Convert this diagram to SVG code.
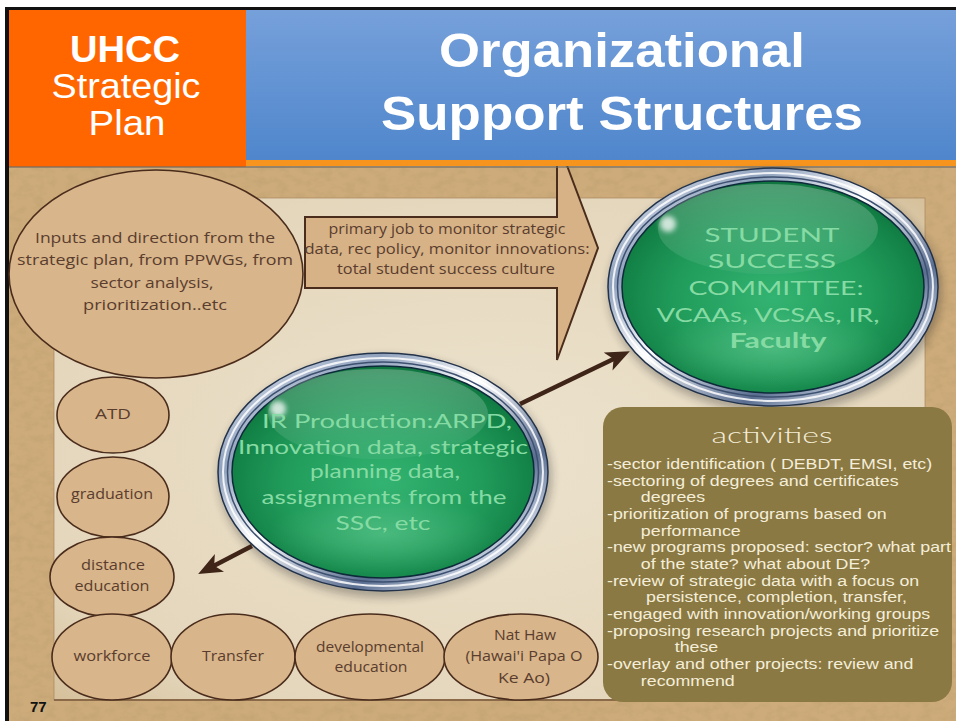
<svg xmlns="http://www.w3.org/2000/svg" xmlns:xlink="http://www.w3.org/1999/xlink" width="956" height="721" viewBox="0 0 956 721">
<defs>
<style>
.hdr{font-family:"Liberation Sans",Arial,sans-serif;fill:#ffffff}
.brown{font-family:"Open Sans","DejaVu Sans",sans-serif;font-size:15px;fill:#5a3d2e;text-anchor:middle}
.small{font-size:14px}
.node{fill:#d8b58a;stroke:#4a2c1c;stroke-width:1.6}
.gtxt{font-family:Lato,"Open Sans",sans-serif;font-size:20px;fill:#86dba4;text-anchor:middle}
.act{font-family:"Liberation Sans",Arial,sans-serif;font-size:15.5px;fill:#f4eed8}
.conn{stroke:#3f2418;stroke-width:4.5;fill:none;marker-end:url(#ah)}
</style>
<linearGradient id="blue" x1="0" y1="0" x2="0" y2="1">
<stop offset="0" stop-color="#76a0da"/><stop offset="1" stop-color="#4f86cc"/>
</linearGradient>
<radialGradient id="paper" cx="0.5" cy="0.5" r="0.7">
<stop offset="0" stop-color="#ece2cd"/><stop offset="0.8" stop-color="#e4d6bb"/><stop offset="1" stop-color="#d6c19c"/>
</radialGradient>
<linearGradient id="silver" x1="0" y1="0" x2="1" y2="1">
<stop offset="0" stop-color="#eef2f8"/><stop offset="0.25" stop-color="#8fa1bd"/><stop offset="0.45" stop-color="#ffffff"/><stop offset="0.7" stop-color="#5a6e91"/><stop offset="0.85" stop-color="#cfd8e6"/><stop offset="1" stop-color="#34476a"/>
</linearGradient>
<radialGradient id="green" cx="0.5" cy="0.55" r="0.6">
<stop offset="0" stop-color="#33b371"/><stop offset="0.55" stop-color="#209b5a"/><stop offset="0.85" stop-color="#128045"/><stop offset="1" stop-color="#0b6236"/>
</radialGradient>
<linearGradient id="gloss" x1="0" y1="0" x2="0" y2="1">
<stop offset="0" stop-color="#ffffff" stop-opacity="0.26"/><stop offset="1" stop-color="#ffffff" stop-opacity="0.05"/>
</linearGradient>
<radialGradient id="glow" cx="0.5" cy="0.5" r="0.5">
<stop offset="0" stop-color="#9ff0c0" stop-opacity="0.3"/><stop offset="1" stop-color="#9ff0c0" stop-opacity="0"/>
</radialGradient>
<filter id="grain" x="0" y="0" width="100%" height="100%">
<feTurbulence type="fractalNoise" baseFrequency="0.09 0.14" numOctaves="3" seed="7" result="n"/>
<feColorMatrix in="n" type="matrix" values="0 0 0 0 0.5  0 0 0 0 0.34  0 0 0 0 0.16  0 0 0 1.0 -0.42" result="c"/>
<feComposite in="c" in2="SourceGraphic" operator="in"/>
</filter>
<filter id="blur" x="-20%" y="-20%" width="140%" height="140%"><feGaussianBlur stdDeviation="4"/></filter>
<filter id="soft" x="-50%" y="-50%" width="200%" height="200%"><feGaussianBlur stdDeviation="2.5"/></filter>
<marker id="ah" markerUnits="userSpaceOnUse" markerWidth="24" markerHeight="20" refX="10" refY="10" orient="auto">
<path d="M0,0 L24,10 L0,20 L6,10 Z" fill="#3f2418"/>
</marker>
<g id="bubble">
<ellipse cx="2" cy="5" rx="167" ry="121" fill="#1a1a1a" opacity="0.3" filter="url(#blur)"/>
<ellipse rx="165" ry="119" fill="url(#silver)" stroke="#22324a" stroke-width="1.5"/>
<ellipse rx="160" ry="114" fill="none" stroke="#ffffff" stroke-width="2" opacity="0.85"/>
<ellipse rx="155.5" ry="110" fill="none" stroke="#3d5070" stroke-width="1.5"/>
<ellipse rx="151" ry="106" fill="url(#green)" stroke="#0d2a3a" stroke-width="1.5"/>
<ellipse cx="-5" cy="-58" rx="110" ry="45" fill="url(#gloss)"/>
<ellipse cx="0" cy="62" rx="115" ry="40" fill="url(#glow)"/>
<circle cx="-105" cy="-63" r="8" fill="#ffffff" opacity="0.75" filter="url(#soft)"/>
</g>
</defs>

<g id="background">
<rect x="0" y="0" width="956" height="721" fill="#ffffff"/>
<rect x="9" y="10" width="947" height="711" fill="#cdab7a"/>
<rect x="9" y="10" width="947" height="711" fill="#cdab7a" filter="url(#grain)"/>
<rect x="54" y="198" width="871" height="502" fill="url(#paper)" stroke="#a88860" stroke-width="1" stroke-opacity="0.7"/>
<line x1="54" y1="700" x2="925" y2="700" stroke="#8a6a48" stroke-width="2"/>
<rect x="5" y="7" width="951" height="3" fill="#111111"/>
<rect x="5" y="7" width="4" height="714" fill="#111111"/>
</g>

<g id="node-inputs">
<ellipse class="node" cx="156" cy="274" rx="147" ry="104"/>
<text class="brown" x="155" y="243" textLength="240" lengthAdjust="spacingAndGlyphs">Inputs and direction from the</text>
<text class="brown" x="155" y="265" textLength="276" lengthAdjust="spacingAndGlyphs">strategic plan, from PPWGs, from</text>
<text class="brown" x="152" y="288" textLength="123" lengthAdjust="spacingAndGlyphs">sector analysis,</text>
<text class="brown" x="155" y="310" textLength="144" lengthAdjust="spacingAndGlyphs">prioritization..etc</text>
</g>

<g id="node-primary-job">
<polygon points="305,217 557,217 557,139 598,248 557,360 557,288 305,288" fill="#d6b286" stroke="#4a2c1c" stroke-width="2" stroke-linejoin="miter"/>
<text class="brown small" x="447" y="234" textLength="237" lengthAdjust="spacingAndGlyphs">primary job to monitor strategic</text>
<text class="brown small" x="447" y="254" textLength="285" lengthAdjust="spacingAndGlyphs">data, rec policy, monitor innovations:</text>
<text class="brown small" x="446" y="274" textLength="218" lengthAdjust="spacingAndGlyphs">total student success culture</text>
</g>

<g id="header">
<rect x="9" y="10" width="237" height="157" fill="#ff6600"/>
<rect x="246" y="10" width="710" height="151" fill="url(#blue)"/>
<rect x="246" y="160" width="710" height="6" fill="#f7941d"/>
<rect x="9" y="166" width="947" height="2" fill="#6f6a60" opacity="0.6"/>
<text class="hdr" x="125" y="62" font-size="37" font-weight="bold" text-anchor="middle" textLength="110" lengthAdjust="spacingAndGlyphs">UHCC</text>
<text class="hdr" x="126" y="98" font-size="35" text-anchor="middle" textLength="149" lengthAdjust="spacingAndGlyphs">Strategic</text>
<text class="hdr" x="127" y="135" font-size="35" text-anchor="middle" textLength="77" lengthAdjust="spacingAndGlyphs">Plan</text>
<text class="hdr" x="622" y="67" font-size="49" font-weight="bold" text-anchor="middle" textLength="366" lengthAdjust="spacingAndGlyphs">Organizational</text>
<text class="hdr" x="622" y="130" font-size="49" font-weight="bold" text-anchor="middle" textLength="482" lengthAdjust="spacingAndGlyphs">Support Structures</text>
</g>

<g id="node-atd">
<ellipse class="node" cx="113" cy="415" rx="56" ry="38"/>
<text class="brown small" x="113" y="419" textLength="36" lengthAdjust="spacingAndGlyphs">ATD</text>
</g>
<g id="node-graduation">
<ellipse class="node" cx="113" cy="497" rx="56" ry="40"/>
<text class="brown small" x="112" y="499" textLength="82" lengthAdjust="spacingAndGlyphs">graduation</text>
</g>
<g id="node-distance-education">
<ellipse class="node" cx="112" cy="577" rx="62" ry="40"/>
<text class="brown small" x="113" y="570" textLength="64" lengthAdjust="spacingAndGlyphs">distance</text>
<text class="brown small" x="112" y="591" textLength="75" lengthAdjust="spacingAndGlyphs">education</text>
</g>
<g id="node-workforce">
<ellipse class="node" cx="112" cy="657" rx="60" ry="43"/>
<text class="brown small" x="112" y="661" textLength="77" lengthAdjust="spacingAndGlyphs">workforce</text>
</g>
<g id="node-transfer">
<ellipse class="node" cx="233" cy="657" rx="62" ry="43"/>
<text class="brown small" x="233" y="661" textLength="62" lengthAdjust="spacingAndGlyphs">Transfer</text>
</g>
<g id="node-developmental-education">
<ellipse class="node" cx="370" cy="657" rx="75" ry="43"/>
<text class="brown small" x="370" y="652" textLength="108" lengthAdjust="spacingAndGlyphs">developmental</text>
<text class="brown small" x="371" y="672" textLength="73" lengthAdjust="spacingAndGlyphs">education</text>
</g>
<g id="node-nat-haw">
<ellipse class="node" cx="521" cy="657" rx="77" ry="43"/>
<text class="brown small" x="525" y="640" textLength="62" lengthAdjust="spacingAndGlyphs">Nat Haw</text>
<text class="brown small" x="524" y="661" textLength="117" lengthAdjust="spacingAndGlyphs">(Hawai'i Papa O</text>
<text class="brown small" x="524" y="683" textLength="52" lengthAdjust="spacingAndGlyphs">Ke Ao)</text>
</g>

<g id="node-ssc">
<use xlink:href="#bubble" href="#bubble" transform="translate(773,287)"/>
<text class="gtxt" x="772" y="242" font-size="22" textLength="135" lengthAdjust="spacingAndGlyphs">STUDENT</text>
<text class="gtxt" x="772" y="268" font-size="22" textLength="128" lengthAdjust="spacingAndGlyphs">SUCCESS</text>
<text class="gtxt" x="776" y="295" font-size="22" textLength="175" lengthAdjust="spacingAndGlyphs">COMMITTEE:</text>
<text class="gtxt" x="768" y="322" font-size="22" textLength="223" lengthAdjust="spacingAndGlyphs">VCAAs, VCSAs, IR,</text>
<text class="gtxt" x="778" y="348" font-size="22" font-weight="bold" fill="#c6efd0" textLength="97" lengthAdjust="spacingAndGlyphs">Faculty</text>
</g>

<g id="node-ir">
<use xlink:href="#bubble" href="#bubble" transform="translate(383,472)"/>
<text class="gtxt" x="387" y="428" textLength="250" lengthAdjust="spacingAndGlyphs">IR Production:ARPD,</text>
<text class="gtxt" x="383" y="454" textLength="290" lengthAdjust="spacingAndGlyphs">Innovation data, strategic</text>
<text class="gtxt" x="385" y="478" textLength="150" lengthAdjust="spacingAndGlyphs">planning data,</text>
<text class="gtxt" x="384" y="504" textLength="245" lengthAdjust="spacingAndGlyphs">assignments from the</text>
<text class="gtxt" x="383" y="530" fill="#a6e6bb" textLength="95" lengthAdjust="spacingAndGlyphs">SSC, etc</text>
</g>

<g id="node-activities">
<rect x="603" y="407" width="349" height="295" rx="20" ry="20" fill="#8b7944"/>
<text x="772" y="443" font-family="Lato,'Open Sans',sans-serif" font-size="22" font-weight="300" fill="#f4eed8" text-anchor="middle" textLength="121" lengthAdjust="spacingAndGlyphs">activities</text>
<g transform="translate(607,0) scale(1.148,1)">
<text class="act" x="0" y="469">-sector identification ( DEBDT, EMSI, etc)</text>
<text class="act" x="0" y="486">-sectoring of degrees and certificates</text>
<text class="act" x="29.5" y="502">degrees</text>
<text class="act" x="0" y="519">-prioritization of programs based on</text>
<text class="act" x="29.5" y="536">performance</text>
<text class="act" x="0" y="552">-new programs proposed: sector? what part</text>
<text class="act" x="29.5" y="569">of the state? what about DE?</text>
<text class="act" x="0" y="586">-review of strategic data with a focus on</text>
<text class="act" x="34" y="602">persistence, completion, transfer,</text>
<text class="act" x="0" y="619">-engaged with innovation/working groups</text>
<text class="act" x="0" y="636">-proposing research projects and prioritize</text>
<text class="act" x="59" y="652">these</text>
<text class="act" x="0" y="669">-overlay and other projects: review and</text>
<text class="act" x="29.5" y="686">recommend</text>
</g>
</g>

<g id="connectors">
<line class="conn" x1="520" y1="404" x2="617.2" y2="357.2"/>
<line class="conn" x1="252" y1="546" x2="210.6" y2="567.5"/>
</g>

<text x="30" y="712" font-family="'Liberation Sans',Arial,sans-serif" font-size="15" font-weight="bold" fill="#111111">77</text>
</svg>
